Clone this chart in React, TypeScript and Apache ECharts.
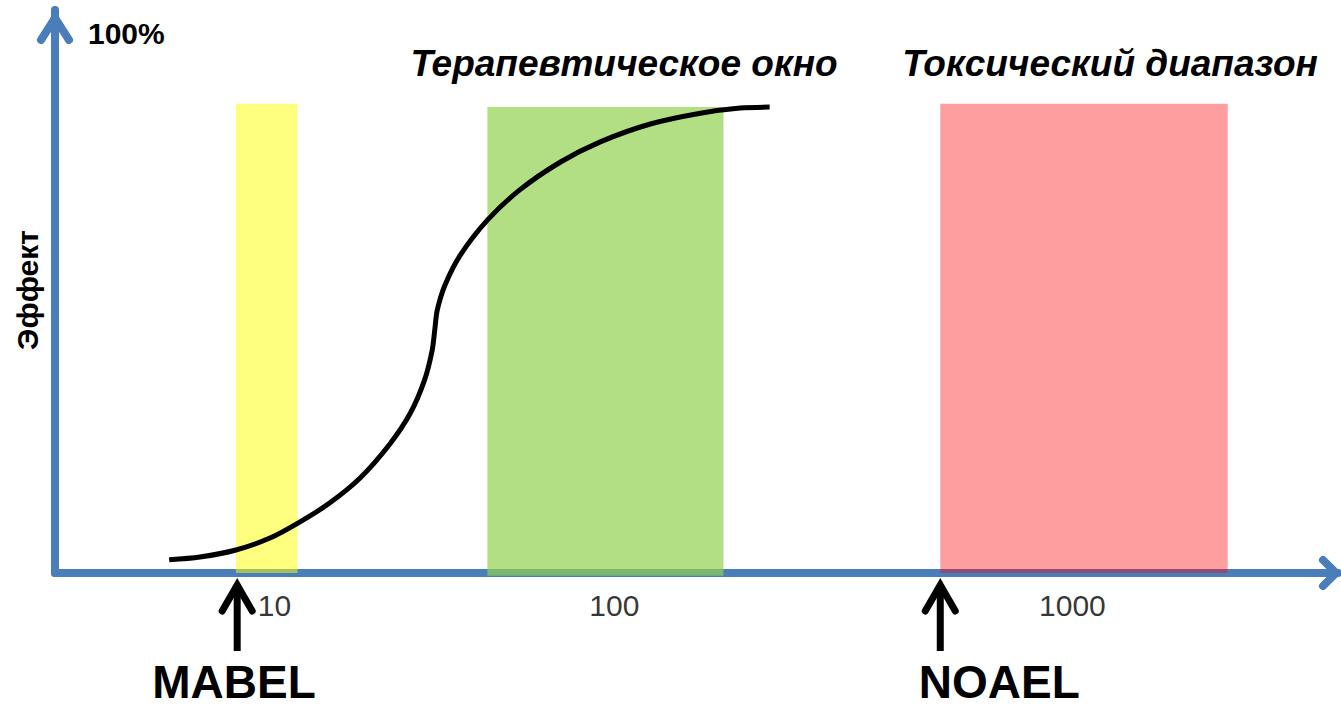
import React, { useEffect, useRef } from "react";
import * as echarts from "echarts";

// Dose position (relative log-dose units 0..100) and effect (%)
const curveX = [8.9, 11.3, 14.1, 16.8, 19.1, 21.4, 23.8, 26.1, 27.7, 28.8, 29.4, 29.6, 29.8, 30.4, 31.6, 33.7, 36.2, 39.4, 42.5, 46.4, 50.3, 53.4, 55.7];
const curveY = [2.8, 3.4, 4.9, 7.5, 10.9, 14.9, 20.3, 27.5, 34.1, 41.1, 47.5, 51.8, 56.1, 61.4, 67.8, 75.2, 81.6, 87.6, 91.9, 95.7, 98.0, 99.1, 99.3];

const zoneNames = ["MABEL-зона", "Терапевтическое окно", "Токсический диапазон"];
const zoneStart = [14.1, 33.7, 69.0];
const zoneEnd = [18.9, 52.1, 91.4];
const zoneBottom = [0, -0.6, 0];
const zoneTop = [100, 99.3, 100];

const tickLabels = ["10", "100", "1000"];
const tickX = [17.1, 43.6, 79.3];

const markerNames = ["MABEL", "NOAEL"];
const markerX = [14.2, 69.0];
const markerLabelX = [13.95, 73.6];

const titleTexts = ["Терапевтическое окно", "Токсический диапазон"];
const yAxisName = "Эффект";
const yTopLabel = "100%";

const zoneColors = ["rgba(255,255,0,0.5)", "rgba(146,208,80,0.7)", "rgba(255,0,0,0.38)"];
const FONT = "'Liberation Sans', Arial, sans-serif";
const AXIS = "#4a7ebb";

export default function App() {
  const ref = useRef<HTMLDivElement>(null);
  useEffect(() => {
    document.body.style.margin = "0";
    const chart = echarts.init(ref.current!, undefined, { renderer: "svg" });
    chart.setOption({
      animation: false,
      backgroundColor: "#ffffff",
      grid: { left: 55, right: 3, top: 10, bottom: 135 },
      xAxis: {
        type: "value",
        min: 0,
        max: 100,
        axisLine: { show: true, lineStyle: { color: AXIS, width: 8 } },
        axisTick: { show: false },
        axisLabel: { show: false },
        splitLine: { show: false },
      },
      yAxis: {
        type: "value",
        min: 0,
        max: 120,
        axisLine: { show: true, lineStyle: { color: AXIS, width: 8 } },
        axisTick: { show: false },
        axisLabel: { show: false },
        splitLine: { show: false },
      },
      graphic: [
        {
          type: "polyline",
          shape: { points: [[41, 40], [55, 18], [69, 40]] },
          style: { stroke: AXIS, lineWidth: 8, fill: "none", lineCap: "round", lineJoin: "miter" },
          z: 10,
        },
        {
          type: "polyline",
          shape: { points: [[1323, 560], [1336, 573], [1323, 586]] },
          style: { stroke: AXIS, lineWidth: 8, fill: "none", lineCap: "round", lineJoin: "miter" },
          z: 10,
        },
        {
          type: "text",
          x: 88,
          y: 33,
          style: { text: yTopLabel, font: `bold 30px ${FONT}`, fill: "#000", align: "left", verticalAlign: "middle" },
        },
        {
          type: "text",
          x: 27,
          y: 290,
          rotation: Math.PI / 2,
          style: { text: yAxisName, font: `bold 30px ${FONT}`, fill: "#000", align: "center", verticalAlign: "middle" },
        },
        {
          type: "text",
          x: 624,
          y: 63,
          style: { text: titleTexts[0], font: `italic bold 37px ${FONT}`, fill: "#000", align: "center", verticalAlign: "middle" },
        },
        {
          type: "text",
          x: 1110,
          y: 63,
          style: { text: titleTexts[1], font: `italic bold 37px ${FONT}`, fill: "#000", align: "center", verticalAlign: "middle" },
        },
      ],
      series: [
        {
          name: "zones",
          type: "custom",
          clip: false,
          encode: { x: [0, 1], y: [2, 3] },
          data: zoneStart.map((s, i) => ({ name: zoneNames[i], value: [s, zoneEnd[i], zoneBottom[i], zoneTop[i]] })),
          renderItem: (params: any, api: any) => {
            const p0 = api.coord([api.value(0), api.value(3)]);
            const p1 = api.coord([api.value(1), api.value(2)]);
            return {
              type: "rect",
              shape: { x: p0[0], y: p0[1], width: p1[0] - p0[0], height: p1[1] - p0[1] },
              style: { fill: zoneColors[params.dataIndex] },
            };
          },
        },
        {
          name: "effect",
          type: "line",
          smooth: 0.3,
          showSymbol: false,
          data: curveX.map((x, i) => [x, curveY[i]]),
          lineStyle: { color: "#000", width: 5, cap: "butt" },
          z: 5,
        },
        {
          name: "ticks",
          type: "scatter",
          symbolSize: 0,
          data: tickX.map((x, i) => ({ value: [x, 0], name: tickLabels[i] })),
          label: {
            show: true,
            formatter: (p: any) => p.name,
            position: "inside",
            offset: [0, 32],
            fontFamily: FONT,
            fontSize: 30,
            color: "#000",
          },
        },
        {
          name: "markers",
          type: "custom",
          clip: false,
          data: markerX.map((x, i) => ({ name: markerNames[i], value: [x, markerLabelX[i]] })),
          renderItem: (params: any, api: any) => {
            const i = params.dataIndex;
            const p = api.coord([api.value(0), 0]);
            const lx = api.coord([api.value(1), 0])[0];
            const x = p[0];
            const b = p[1];
            return {
              type: "group",
              children: [
                {
                  type: "line",
                  shape: { x1: x, y1: b + 12, x2: x, y2: b + 78 },
                  style: { stroke: "#000", lineWidth: 7 },
                },
                {
                  type: "polyline",
                  shape: { points: [[x - 15, b + 38], [x, b + 12], [x + 15, b + 38]] },
                  style: { stroke: "#000", lineWidth: 7, fill: "none", lineCap: "round", lineJoin: "miter" },
                },
                {
                  type: "text",
                  x: lx,
                  y: b + 109,
                  style: {
                    text: markerNames[i],
                    font: `bold 46px ${FONT}`,
                    fill: "#000",
                    align: "center",
                    verticalAlign: "middle",
                  },
                },
              ],
            };
          },
        },
      ],
    });
    return () => chart.dispose();
  }, []);
  return <div ref={ref} style={{ position: "absolute", left: 0, top: 0, width: 1341, height: 708 }} />;
}
